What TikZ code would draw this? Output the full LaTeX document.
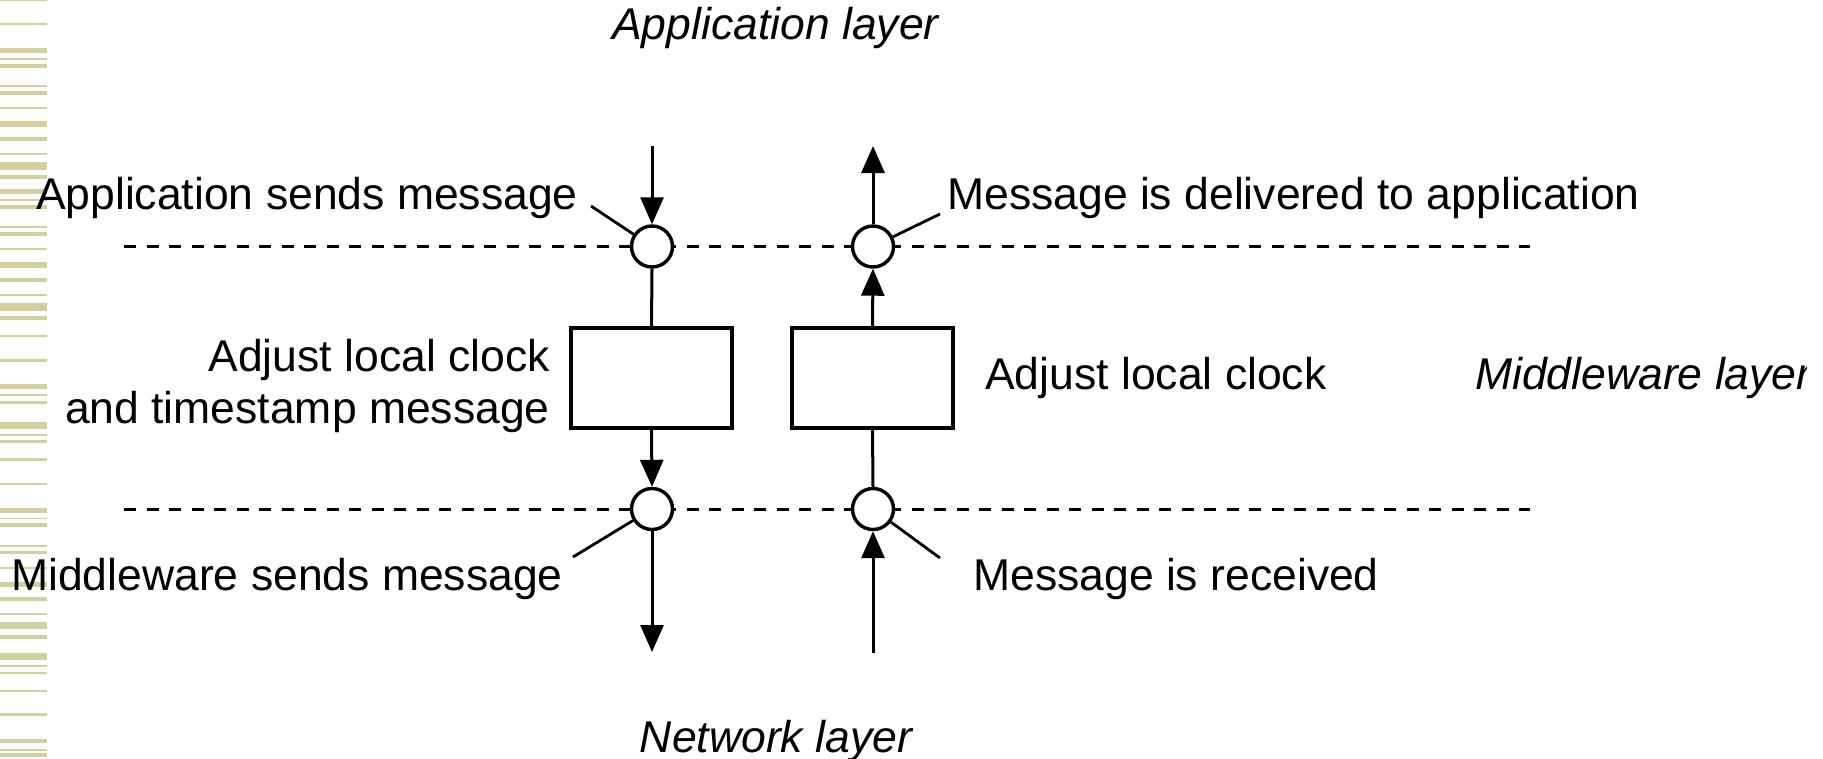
\documentclass[tikz,border=0pt]{standalone}
\usepackage{fontspec}
\setmainfont{Liberation Sans}
\usetikzlibrary{arrows.meta}
\definecolor{stripe}{HTML}{D3CF9F}
\begin{document}
\begin{tikzpicture}[x=1pt,y=-1pt,
  lbl/.style={inner sep=0pt,font=\fontsize{44.5}{52}\selectfont},
  layerlbl/.style={lbl,font=\fontsize{44.5}{52}\selectfont\itshape},
  eventdot/.style={circle,draw,fill=white,line width=3.4pt,minimum size=41pt,inner sep=0pt},
  stepbox/.style={draw,line width=3.2pt,minimum width=161pt,minimum height=100pt,inner sep=0pt},
  flow/.style={line width=3pt},
  flowarrow/.style={flow,-{Triangle[length=27pt,width=23pt]}},
  leader/.style={line width=2.8pt},
  layerline/.style={line width=3pt,dash pattern=on 12pt off 10.5pt}]
\useasboundingbox (0,0) rectangle (1823,758);

% decorative stripes along the left edge
\foreach \a/\b in {0/1,23/25,48/53,58/60,64/68,85/87,91/95,107/109,121/127,
  137/141,153/155,162/170,175/179,189/194,199/201,205/209,226/228,232/236,
  248/250,262/268,278/282,294/296,303/311,316/320,335/337,359/362,384/389,
  394/396,401/404,422/429,434/436,440/443,458/461,483/485,508/513,518/519,
  523/527,545/547,551/554,567/569,582/587,597/601,613/615,622/629,635/639,
  653/660,665/667,672/674,690/692,713/716,739/743,749/751,753/757}
  \fill[stripe] (0,\a) rectangle (47,\b);

% layer boundaries
\coordinate (topL) at (124,246.5);
\coordinate (topR) at (1530,246.5);
\coordinate (botL) at (124,509);
\coordinate (botR) at (1530,509);
\draw[layerline] (topL) -- (topR);
\draw[layerline] (botL) -- (botR);

% event points and processing boxes
\node[eventdot] (c1) at (652,246.5) {};
\node[eventdot] (c3) at (873,246.5) {};
\node[eventdot] (c2) at (652,509) {};
\node[eventdot] (c4) at (873,509) {};
\node[stepbox] (b1) at (651.5,378) {};
\node[stepbox] (b2) at (872.5,378) {};

% free ends of the vertical flows
\coordinate (inTop) at (652,146);
\coordinate (outTop) at (873,146);
\coordinate (outBot) at (652,652);
\coordinate (inBot) at (873,653);

% sending side
\draw[flowarrow] (inTop) -- (c1.north);
\draw[flow] (c1.south) -- (b1.north);
\draw[flowarrow] (b1.south) -- (c2.north);
\draw[flowarrow] (c2.south) -- (outBot);

% receiving side
\draw[flowarrow] (inBot) -- (c4.south);
\draw[flow] (c4.north) -- (b2.south);
\draw[flowarrow] (b2.north) -- (c3.south);
\draw[flowarrow] (c3.north) -- (outTop);

% labels
\node[layerlbl,anchor=base west] (app) at (612,39) {Application layer};
\node[layerlbl,anchor=base] (net) at (776,752) {Network layer};
\begin{scope}
  \clip (0,0) rectangle (1806,758);
  \node[layerlbl,anchor=base west] (mid) at (1475,389) {Middleware layer};
\end{scope}

\node[lbl,anchor=base east] (t1) at (578,209) {Application sends message};
\node[lbl,anchor=base west] (t3) at (947,209) {Message is delivered to application};
\node[lbl,anchor=base east,align=right] (t5) at (550,423)
  {Adjust local clock\\and timestamp message};
\node[lbl,anchor=base west] (t6) at (985,389) {Adjust local clock};
\node[lbl,anchor=base east] (t2) at (563,590) {Middleware sends message};
\node[lbl,anchor=base west] (t4) at (973,590) {Message is received};

% leaders from labels to event points
\coordinate (l1) at (591,206);
\coordinate (l3) at (940,214);
\coordinate (l2) at (573,557);
\coordinate (l4) at (940,558);
\draw[leader] (l1) -- (c1);
\draw[leader] (l3) -- (c3);
\draw[leader] (l2) -- (c2);
\draw[leader] (l4) -- (c4);
\end{tikzpicture}
\end{document}
